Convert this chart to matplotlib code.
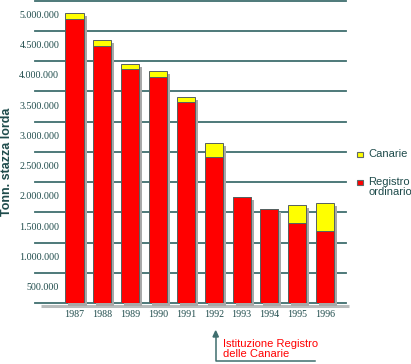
import matplotlib
matplotlib.use("Agg")
import matplotlib.pyplot as plt
import matplotlib.transforms as mtransforms
from matplotlib.patches import Rectangle
from matplotlib.lines import Line2D
import numpy as np

# ---- data ----
years = ["1987", "1988", "1989", "1990", "1991", "1992", "1993", "1994", "1995", "1996"]
registro_ordinario = [4694000, 4249000, 3864000, 3732000, 3324000, 2421000, 1759000, 1562000, 1321000, 1189000]
canarie = [95000, 94000, 92000, 99000, 87000, 231000, 0, 0, 302000, 459000]
tick_values = [500000 * k for k in range(1, 11)]
tick_labels = ["500.000", "1.000.000", "1.500.000", "2.000.000", "2.500.000",
               "3.000.000", "3.500.000", "4.000.000", "4.500.000", "5.000.000"]
legend_labels = ["Canarie", "Registro\nordinario"]
annotation_text = "Istituzione Registro\ndelle Canarie"

W, H = 411, 364
fig = plt.figure(figsize=(W / 100, H / 100), dpi=100)
fig.patch.set_facecolor("white")

def fx(x):
    return x / W

def fy(y):
    return 1 - y / H

ax_left, ax_right, ax_top, ax_bottom = 35, 346, 0.5, 303.3
ax = fig.add_axes([fx(ax_left), fy(ax_bottom), (ax_right - ax_left) / W, (ax_bottom - ax_top) / H])
ax.set_ylim(0, 5000000)
ax.set_xlim(-1.418, 9.75)
for s in ax.spines.values():
    s.set_visible(False)
ax.set_facecolor("none")

teal = "#3f6e6e"
text_teal = "#1e4b4b"
red = "#ff0000"
yellow = "#ffff00"
shadow = "#a8a8a8"
edge = "#556060"

x = np.arange(len(years))
width = 0.65
totals = np.array(registro_ordinario) + np.array(canarie)

# gridlines
for k in range(0, 11):
    ax.axhline(500000 * k, color=teal, lw=1.3, zorder=1, clip_on=False)
# baseline shadow
base_shadow = ax.transData + mtransforms.ScaledTranslation(3 / 100, -2.5 / 100, fig.dpi_scale_trans)
ax.plot([-1.31, 9.75], [0, 0], color="#b8bcbc", lw=2.2, transform=base_shadow, zorder=0.8,
        clip_on=False, solid_capstyle="butt")

# bar shadows
sh = ax.transData + mtransforms.ScaledTranslation(3 / 100, -3 / 100, fig.dpi_scale_trans)
ax.bar(x, totals, width=width, color=shadow, edgecolor="none", transform=sh, zorder=2, clip_on=False)

# bars
ax.bar(x, registro_ordinario, width=width, color=red, edgecolor=edge, linewidth=0.7, zorder=3)
ax.bar(x, canarie, bottom=registro_ordinario, width=width, color=yellow, edgecolor=edge,
       linewidth=0.7, zorder=3)

# x tick labels
ax.set_xticks(x)
ax.set_xticklabels(years, family="Liberation Serif", fontsize=7.2, color=text_teal)
ax.tick_params(axis="x", length=0, pad=4.6)
ax.set_yticks([])

# y tick labels (drawn between the gridlines, shifted like the original)
lab_tr = mtransforms.blended_transform_factory(ax.transAxes, ax.transData) + \
    mtransforms.ScaledTranslation(24.3 / 100, -14.7 / 100, fig.dpi_scale_trans)
for v, lab in zip(tick_values, tick_labels):
    ax.text(0, v, lab, transform=lab_tr, ha="right", va="center",
            family="Liberation Serif", fontsize=7.2, color=text_teal, zorder=5)

# y axis title
fig.text(fx(7.5), fy(162), "Tonn. stazza lorda", rotation=90, ha="center", va="center",
         family="Liberation Sans", fontweight="bold", fontsize=9, color=text_teal)

# legend
for ytop, col in [(151.7, yellow), (179.7, red)]:
    fig.patches.append(Rectangle((fx(357.3), fy(ytop + 5.3)), 5.3 / W, 5.3 / H,
                                 transform=fig.transFigure, facecolor=col,
                                 edgecolor="#606868", lw=0.8))
fig.text(fx(368.5), fy(154), legend_labels[0], ha="left", va="center",
         family="Liberation Sans", fontsize=8, color=text_teal)
fig.text(fx(368.5), fy(187), legend_labels[1], ha="left", va="center",
         family="Liberation Sans", fontsize=8, color=text_teal, linespacing=0.95)

# annotation arrow
fig.add_artist(Line2D([fx(215.7), fx(215.7), fx(315)], [fy(335), fy(360.7), fy(360.7)],
                      transform=fig.transFigure, color=teal, lw=1.1))
fig.add_artist(plt.Polygon([[fx(215.7), fy(331)], [fx(213), fy(337)], [fx(218.4), fy(337)]],
                           closed=True, transform=fig.transFigure, color=teal))
fig.text(fx(223), fy(349.2), annotation_text, ha="left", va="center",
         family="Liberation Sans", fontsize=8, color=red, linespacing=0.95)

fig.savefig("out.png", dpi=100, facecolor="white")
